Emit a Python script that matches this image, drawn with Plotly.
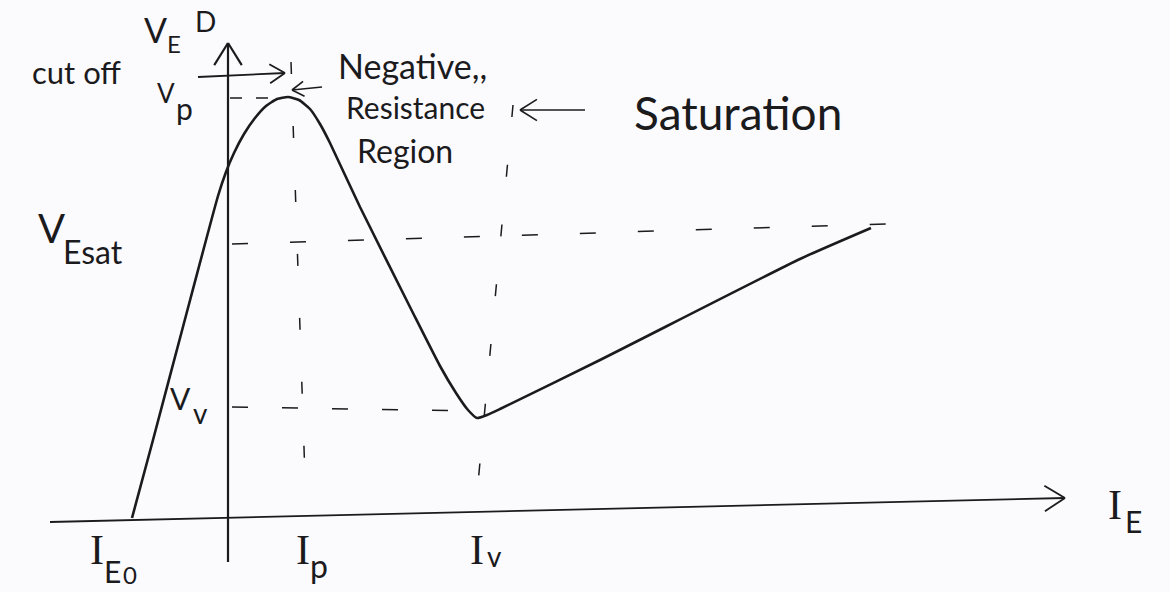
import numpy as np
import plotly.graph_objects as go

# UJT emitter characteristic: emitter current I_E (mA) vs emitter voltage V_E (V)
ie = [-4.80, -3.75, -2.20, -0.50, -0.10, 0.30, 0.80, 1.35, 1.90, 2.45, 3.00,
      3.55, 4.10, 4.60, 5.10, 6.60, 9.25, 10.60, 11.40, 12.00, 12.45, 12.95,
      13.60, 18.60, 28.60, 32.15]
ve = [0.00, 3.90, 9.75, 16.10, 17.30, 18.25, 19.20, 20.00, 20.60, 20.95, 21.05,
      20.90, 20.45, 19.70, 18.75, 15.55, 10.25, 7.60, 6.25, 5.40, 5.00, 5.15,
      5.45, 7.90, 12.95, 14.50]

# characteristic levels
V_P = 21.0
V_ESAT = 13.7
V_V = 5.55
I_P = 3.6
I_V = 12.4
I_E0 = -4.8

# projection lines (drawn freehand, so slightly slanted)
vp_line_x = [0.1, 2.75]
vp_line_y = [V_P, V_P]
vv_line_x = [0.2, I_V]
vv_line_y = [V_V, V_V - 0.2]
vesat_line_x = [0.2, 32.95]
vesat_line_y = [V_ESAT, V_ESAT + 1.0]
ip_line_x = [I_P - 0.45, I_P + 0.3]
ip_line_y = [22.8, 0.55]
iv_line_x = [I_V + 1.85, I_V - 0.05]
iv_line_y = [20.65, 0.1]

# axes (tail -> tip)
y_axis_x = [0.0, 0.0]
y_axis_y = [-2.2, 23.75]
x_axis_x = [-8.9, 41.85]
x_axis_y = [-0.2, 1.0]

# pointer arrows (tail -> tip)
cutoff_arrow_x = [-1.5, 2.85]
cutoff_arrow_y = [22.05, 22.25]
negres_arrow_x = [4.7, 3.2]
negres_arrow_y = [21.55, 21.4]
sat_arrow_x = [17.85, 14.6]
sat_arrow_y = [20.4, 20.4]

INK = "#1b1b1d"
PAPER = "#fbfafd"
SANS = "Lato, 'Open Sans', sans-serif"
SERIF = "'Liberation Serif', 'DejaVu Serif', serif"

fig = go.Figure()


def add_line(xs, ys, width=2.0, dash="solid", shape="linear"):
    fig.add_trace(go.Scatter(
        x=xs, y=ys, mode="lines", hoverinfo="skip", showlegend=False,
        line=dict(color=INK, width=width, dash=dash, shape=shape,
                  smoothing=0.5 if shape == "spline" else None),
    ))


def add_arrow(xs, ys, head=1.2, spread=np.deg2rad(32), width=2.0):
    """Straight shaft with an open V head at the tip."""
    add_line(xs, ys, width=width)
    tx, ty = xs[-1], ys[-1]
    ang = np.arctan2(ys[0] - ty, xs[0] - tx)
    arm_x, arm_y = [], []
    for s in (spread, -spread):
        arm_x += [tx + head * np.cos(ang + s), tx, None]
        arm_y += [ty + head * np.sin(ang + s), ty, None]
    add_line(arm_x, arm_y, width=width)


# axes
add_arrow(y_axis_x, y_axis_y, head=1.3, width=2.2)
add_arrow(x_axis_x, x_axis_y, head=1.2, width=1.8)

# projection lines
add_line(vp_line_x, vp_line_y, width=1.5, dash="12px,14px")
add_line(vv_line_x, vv_line_y, width=1.5, dash="16px,34px")
add_line(vesat_line_x, vesat_line_y, width=1.5, dash="16px,42px")
add_line(ip_line_x, ip_line_y, width=1.5, dash="12px,52px")
add_line(iv_line_x, iv_line_y, width=1.5, dash="12px,48px")

# characteristic curve
add_line(ie, ve, width=2.6, shape="spline")

# pointer arrows
add_arrow(cutoff_arrow_x, cutoff_arrow_y, head=0.9, width=1.8)
add_arrow(negres_arrow_x, negres_arrow_y, head=0.7, width=1.6)
add_arrow(sat_arrow_x, sat_arrow_y, head=1.0, width=1.6)

# text pieces: text, x, y, size, xanchor, font (subscripts are set as their own pieces)
labels = [
    ("V", -4.3, 24.45, 34, "left", SANS),
    ("E", -3.15, 23.75, 24, "left", SANS),
    ("D", -1.15, 24.85, 28, "center", SANS),
    ("cut off", -7.6, 22.3, 31, "center", SANS),
    ("V", -3.65, 21.25, 26, "left", SANS),
    ("p", -2.7, 20.5, 30, "left", SANS),
    ("Negative,,", 9.2, 22.65, 34, "center", SANS),
    ("Resistance", 9.35, 20.55, 30, "center", SANS),
    ("Region", 8.85, 18.4, 32, "center", SANS),
    ("Saturation", 25.5, 20.3, 46, "center", SANS),
    ("V", -9.6, 14.5, 40, "left", SANS),
    ("Esat", -8.35, 13.35, 32, "left", SANS),
    ("V", -3.0, 6.0, 30, "left", SANS),
    ("v", -1.85, 5.25, 28, "left", SANS),
    ("I", -7.0, -1.6, 42, "left", SERIF),
    ("E", -6.3, -2.65, 30, "left", SANS),
    ("0", -5.35, -2.8, 24, "left", SANS),
    ("I", 3.3, -1.6, 42, "left", SERIF),
    ("p", 4.0, -2.35, 32, "left", SANS),
    ("I", 12.0, -1.6, 42, "left", SERIF),
    ("v", 12.85, -1.9, 28, "left", SANS),
    ("I", 43.9, 0.65, 42, "left", SERIF),
    ("E", 44.75, -0.15, 30, "left", SANS),
]
for text, x, y, size, xa, family in labels:
    fig.add_annotation(x=x, y=y, text=text, showarrow=False, xanchor=xa,
                       yanchor="middle", font=dict(family=family, size=size, color=INK))

fig.update_layout(
    width=1170, height=592,
    margin=dict(l=0, r=0, t=0, b=0),
    paper_bgcolor=PAPER, plot_bgcolor=PAPER,
    xaxis=dict(range=[-11.4, 47.1], visible=False, fixedrange=True),
    yaxis=dict(range=[-3.7, 25.9], visible=False, fixedrange=True),
    showlegend=False,
)

fig.write_html("out.html")
